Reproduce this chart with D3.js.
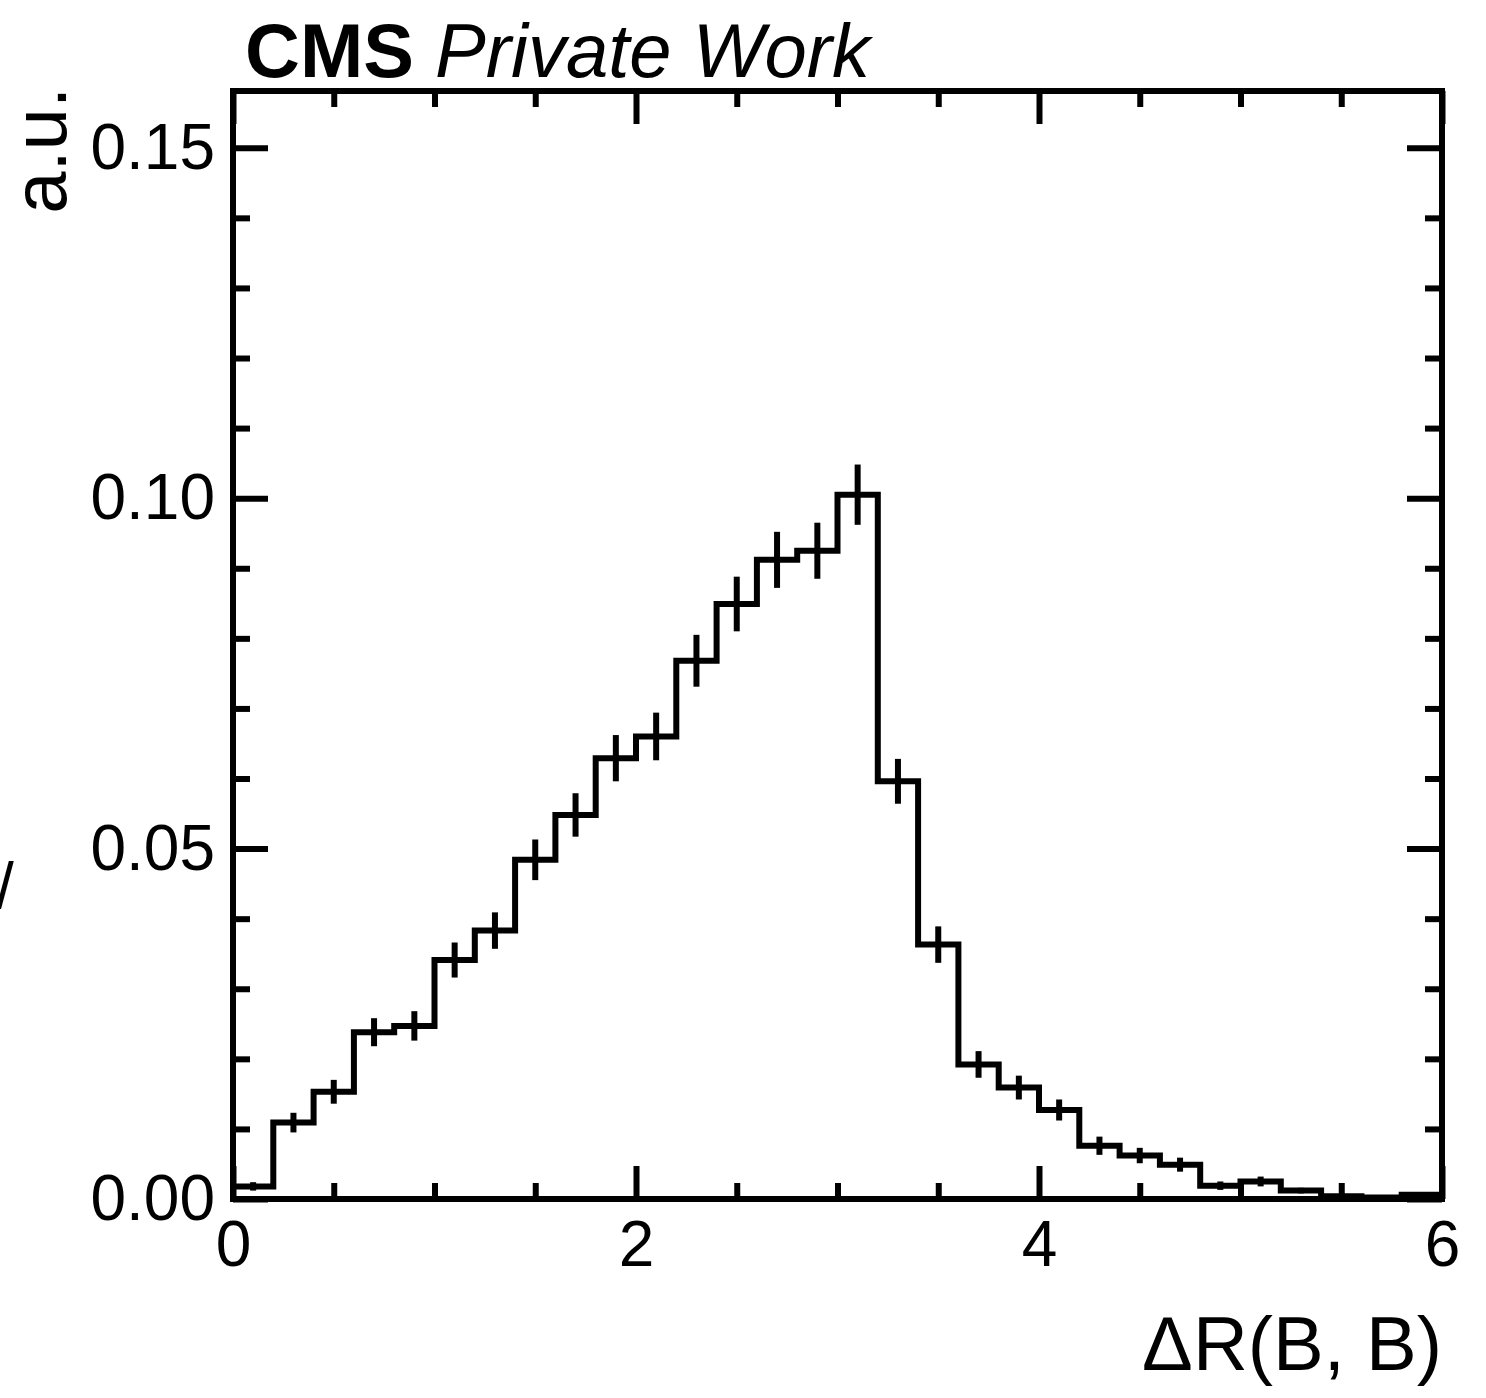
<!DOCTYPE html>
<html><head><meta charset="utf-8">
<script src="https://cdn.jsdelivr.net/npm/d3@7"></script>
<style>body{margin:0;background:#fff} svg{display:block}</style>
</head><body><svg id="c" width="1486" height="1398"></svg>
<script>
const binLow = [0.0,0.2,0.4,0.6,0.8,1.0,1.2,1.4,1.6,1.8,2.0,2.2,2.4,2.6,2.8,3.0,3.2,3.4,3.6,3.8,4.0,4.2,4.4,4.6,4.8,5.0,5.2,5.4,5.6,5.8];
const binWidth = 0.2;
const values = [0.0018,0.0109,0.0153,0.0238,0.0247,0.0341,0.0383,0.0484,0.0548,0.0629,0.0660,0.0768,0.0849,0.0912,0.0925,0.1005,0.0596,0.0363,0.0192,0.0159,0.0127,0.0076,0.0062,0.0049,0.0019,0.0025,0.0012,0.0004,0.0002,0.0006];
const errors = [0.0006,0.0014,0.0017,0.0020,0.0021,0.0025,0.0026,0.0029,0.0031,0.0033,0.0034,0.0037,0.0039,0.0040,0.0040,0.0043,0.0032,0.0026,0.0019,0.0017,0.0015,0.0013,0.0011,0.0010,0.0006,0.0007,0.0004,0.0003,0.0002,0.0003];
const xMajorTicks = [0,2,4,6];
const xMajorLabels = ["0","2","4","6"];
const xMinorTicks = [0.5,1,1.5,2.5,3,3.5,4.5,5,5.5];
const yMajorTicks = [0,0.05,0.10,0.15];
const yMajorLabels = ["0.00","0.05","0.10","0.15"];
const yMinorTicks = [0.01,0.02,0.03,0.04,0.06,0.07,0.08,0.09,0.11,0.12,0.13,0.14];
const xDomain = [0,6];
const yDomain = [0,0.1581];
const xTitle = "ΔR(B, B)";
const yTitle = "a.u.";

const svg = d3.select("#c");
const L=233,R=1442,T=91,B=1199;
const x = d3.scaleLinear().domain(xDomain).range([L,R]);
const y = d3.scaleLinear().domain(yDomain).range([B,T]);
const font = "'Liberation Sans', Arial, Helvetica, sans-serif";
const LW = 6;
const labelSize = 64;

function style(g){
  g.select(".domain").remove();
  g.selectAll(".tick line").attr("stroke","#000").attr("stroke-width",LW);
  g.selectAll(".tick text").attr("font-family",font).attr("font-size",labelSize).attr("fill","#000");
}
// bottom
svg.append("g").attr("transform",`translate(0,${B})`)
  .call(d3.axisBottom(x).tickValues(xMajorTicks).tickSize(-33).tickPadding(22).tickFormat((d,i)=>xMajorLabels[i])).call(style);
svg.append("g").attr("transform",`translate(0,${B})`)
  .call(d3.axisBottom(x).tickValues(xMinorTicks).tickSize(-16).tickFormat("")).call(style);
// top
svg.append("g").attr("transform",`translate(0,${T})`)
  .call(d3.axisTop(x).tickValues(xMajorTicks).tickSize(-33).tickFormat("")).call(style);
svg.append("g").attr("transform",`translate(0,${T})`)
  .call(d3.axisTop(x).tickValues(xMinorTicks).tickSize(-16).tickFormat("")).call(style);
// left
svg.append("g").attr("transform",`translate(${L},0)`)
  .call(d3.axisLeft(y).tickValues(yMajorTicks).tickSize(-35).tickPadding(18).tickFormat((d,i)=>yMajorLabels[i])).call(style);
svg.append("g").attr("transform",`translate(${L},0)`)
  .call(d3.axisLeft(y).tickValues(yMinorTicks).tickSize(-17).tickFormat("")).call(style);
// right
svg.append("g").attr("transform",`translate(${R},0)`)
  .call(d3.axisRight(y).tickValues(yMajorTicks).tickSize(-35).tickFormat("")).call(style);
svg.append("g").attr("transform",`translate(${R},0)`)
  .call(d3.axisRight(y).tickValues(yMinorTicks).tickSize(-17).tickFormat("")).call(style);

// histogram
const pts = binLow.map((b,i)=>[b,values[i]]);
pts.push([binLow[binLow.length-1]+binWidth, values[values.length-1]]);
const line = d3.line().x(d=>x(d[0])).y(d=>y(d[1])).curve(d3.curveStepAfter);
svg.append("path").attr("d",line(pts)).attr("fill","none").attr("stroke","#000").attr("stroke-width",LW);
// error bars
svg.append("g").selectAll("line").data(binLow).join("line")
  .attr("x1",(d)=>x(d+binWidth/2)).attr("x2",(d)=>x(d+binWidth/2))
  .attr("y1",(d,i)=>y(values[i]-errors[i])).attr("y2",(d,i)=>y(values[i]+errors[i]))
  .attr("stroke","#000").attr("stroke-width",LW);

// frame
svg.append("rect").attr("x",L).attr("y",T).attr("width",R-L).attr("height",B-T)
  .attr("fill","none").attr("stroke","#000").attr("stroke-width",LW);

// titles
svg.append("text").attr("x",R).attr("y",1370).attr("text-anchor","end")
  .attr("font-family",font).attr("font-size",76).text(xTitle);
svg.append("text").attr("transform",`translate(66,87) rotate(-90)`).attr("text-anchor","end")
  .attr("font-family",font).attr("font-size",76).text(yTitle);

const cms = svg.append("text").attr("x",245).attr("y",77).attr("font-family",font).attr("font-size",76);
cms.append("tspan").attr("font-weight","bold").text("CMS");
cms.append("tspan").attr("font-style","italic").text(" Private Work");

svg.append("text").attr("x",-4).attr("y",908).attr("font-family",font).attr("font-size",64).text("/");
</script></body></html>
